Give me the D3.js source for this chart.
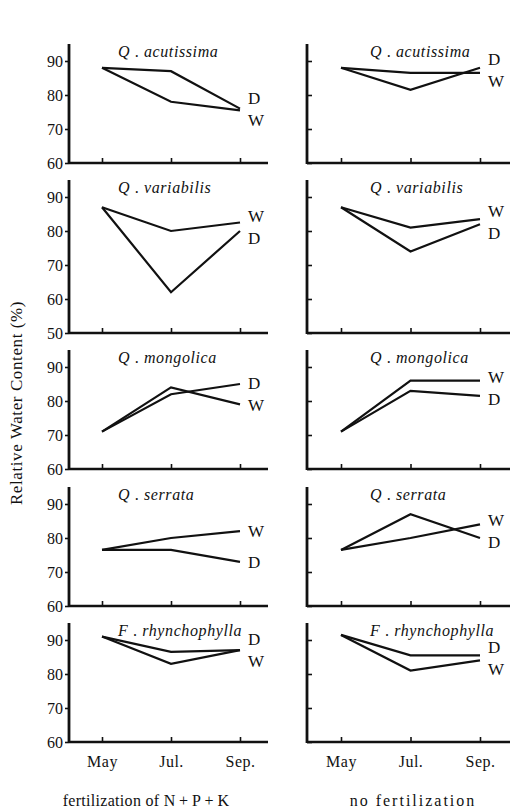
<!DOCTYPE html>
<html>
<head>
<meta charset="utf-8">
<script src="https://cdn.jsdelivr.net/npm/d3@7"></script>
<style>
  body { margin: 0; background: #fff; }
  svg text { font-family: "Liberation Serif", "Times New Roman", Times, serif !important; fill: #111; }
</style>
</head>
<body>
<svg id="chart" width="513" height="810"></svg>
<script>
// months on the x axis
var months = ["May", "Jul.", "Sep."];

// species, one row of panels each: [genus letter, epithet]
var species = [
  ["Q", "acutissima"],
  ["Q", "variabilis"],
  ["Q", "mongolica"],
  ["Q", "serrata"],
  ["F", "rhynchophylla"]
];

// bottom of the y axis for every row
var yMins = [60, 50, 60, 60, 60];

// fertilization of N+P+K (left column)
var fertD = [[88, 87, 76], [87, 62, 80], [71, 82, 85], [76.5, 76.5, 73], [91, 86.5, 87]];
var fertW = [[88, 78, 75.5], [87, 80, 82.5], [71, 84, 79], [76.5, 80, 82], [91, 83, 87]];

// no fertilization (right column)
var noD = [[88, 81.5, 88], [87, 74, 82], [71, 83, 81.5], [76.5, 87, 80], [91.5, 85.5, 85.5]];
var noW = [[88, 86.5, 86.5], [87, 81, 83.5], [71, 86, 86], [76.5, 80, 84], [91.5, 81, 84]];

var columnTitles = ["fertilization of N\u2009+\u2009P\u2009+\u2009K", "no fertilization"];

var svg = d3.select("#chart");

var yMax = 95;
var pxPerUnit = 3.4;
var baselines = [163, 333, 469, 606, 742];

var columns = [
  { D: fertD, W: fertW, axisX: 69, endX: 268, x0: 102, x1: 240, titleX: 118, labels: true, tick: 4,
    capX: 146, capSpacing: 0.3 },
  { D: noD, W: noW, axisX: 307, endX: 510, x0: 341, x1: 480, titleX: 370, labels: false, tick: -5,
    capX: 413, capSpacing: 2 }
];

var line = d3.line();

columns.forEach(function(col, ci) {
  var x = d3.scalePoint().domain(months).range([col.x0, col.x1]);

  species.forEach(function(sp, ri) {
    var base = baselines[ri];
    var y = d3.scaleLinear()
      .domain([yMins[ri], yMax])
      .range([base, base - (yMax - yMins[ri]) * pxPerUnit]);

    var g = svg.append("g");

    // y axis
    var ticks = d3.range(yMins[ri], 91, 10);
    var yAxis = d3.axisLeft(y).tickValues(ticks).tickSize(col.tick).tickPadding(3)
      .tickFormat(col.labels ? d3.format("d") : function() { return ""; });
    var ya = g.append("g").attr("transform", "translate(" + col.axisX + ",0)").call(yAxis);
    ya.select(".domain").remove();
    ya.selectAll(".tick line").attr("stroke", "#111").attr("stroke-width", 1.6);
    ya.selectAll(".tick text").attr("font-size", 16).attr("fill", "#111").attr("dx", 1);
    g.append("line")
      .attr("x1", col.axisX).attr("x2", col.axisX)
      .attr("y1", y(yMins[ri]) + 1).attr("y2", y(yMax))
      .attr("stroke", "#111").attr("stroke-width", 2.8);

    // x axis
    var xAxis = d3.axisBottom(x).tickSize(-5).tickFormat(ri === species.length - 1 ? null : function() { return ""; });
    var xa = g.append("g").attr("transform", "translate(0," + base + ")").call(xAxis);
    xa.select(".domain").remove();
    xa.selectAll(".tick line").attr("stroke", "#111").attr("stroke-width", 1.6);
    xa.selectAll(".tick text").attr("font-size", 16).attr("fill", "#111")
      .attr("dy", "1.4em").attr("letter-spacing", 0.5);
    g.append("line")
      .attr("x1", col.axisX).attr("x2", col.endX)
      .attr("y1", base).attr("y2", base)
      .attr("stroke", "#111").attr("stroke-width", 2.6);

    // panel title
    var t = g.append("text")
      .attr("x", col.titleX)
      .attr("y", y(yMax) + 13)
      .attr("font-size", 16)
      .attr("letter-spacing", 0.6);
    t.append("tspan").attr("font-style", "italic").text(sp[0]);
    t.append("tspan").text(" . ");
    t.append("tspan").attr("font-style", "italic").text(sp[1]);

    // data lines
    var series = [
      { name: "D", values: col.D[ri] },
      { name: "W", values: col.W[ri] }
    ];
    series.forEach(function(s) {
      g.append("path")
        .attr("d", line(s.values.map(function(v, i) { return [x(months[i]), y(v)]; })))
        .attr("fill", "none")
        .attr("stroke", "#111")
        .attr("stroke-width", 2.2);
      s.endY = y(s.values[2]);
    });

    // end labels, pushed apart when too close
    var sorted = series.slice().sort(function(a, b) { return a.endY - b.endY; });
    var gap = sorted[1].endY - sorted[0].endY;
    if (gap < 22) {
      var mid = (sorted[0].endY + sorted[1].endY) / 2;
      sorted[0].labelY = mid - 11;
      sorted[1].labelY = mid + 11;
    } else {
      sorted[0].labelY = sorted[0].endY;
      sorted[1].labelY = sorted[1].endY;
    }
    series.forEach(function(s) {
      g.append("text")
        .attr("x", x("Sep.") + 8)
        .attr("y", s.labelY)
        .attr("dy", "0.35em")
        .attr("font-size", 17)
        .text(s.name);
    });
  });

  // column caption
  svg.append("text")
    .attr("x", col.capX)
    .attr("y", 806)
    .attr("text-anchor", "middle")
    .attr("font-size", 16)
    .attr("letter-spacing", col.capSpacing)
    .text(columnTitles[ci]);
});

// y axis title
svg.append("text")
  .attr("transform", "translate(22,403) rotate(-90)")
  .attr("text-anchor", "middle")
  .attr("font-size", 17)
  .attr("letter-spacing", 0.6)
  .text("Relative Water Content (%)");
</script>
</body>
</html>
